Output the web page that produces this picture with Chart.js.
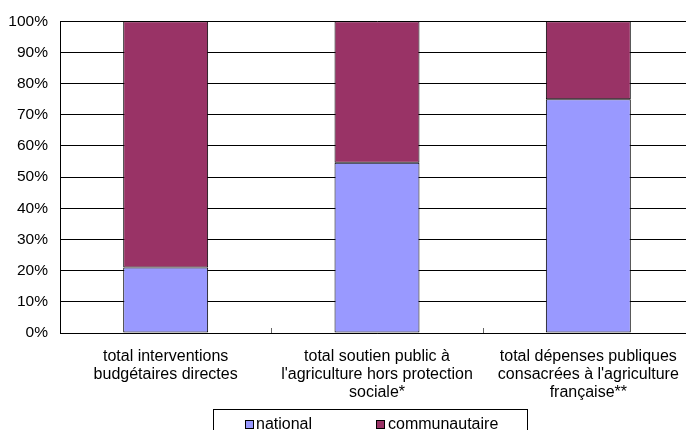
<!DOCTYPE html>
<html>
<head>
<meta charset="utf-8">
<script src="https://cdn.jsdelivr.net/npm/chart.js@4/dist/chart.umd.min.js"></script>
<style>
  html, body { margin: 0; padding: 0; background: #fff; overflow: hidden; }
  #wrap { position: relative; width: 700px; height: 430px; }
</style>
</head>
<body>
<div id="wrap"><canvas id="c"></canvas></div>
<script>
const categories = [
  ["total interventions", "budgétaires directes"],
  ["total soutien public à", "l'agriculture hors protection", "sociale*"],
  ["total dépenses publiques", "consacrées à l'agriculture", "française**"]
];
const national = [21, 54.6, 75];
const communautaire = [79, 45.4, 25];
const seriesNames = ["national", "communautaire"];
const yTicks = [0, 10, 20, 30, 40, 50, 60, 70, 80, 90, 100];

const FONT = "'Liberation Sans', Arial, sans-serif";

const decor = {
  id: 'decor',
  afterDatasetsDraw(chart) {
    const ctx = chart.ctx;
    const xs = chart.scales.x;
    const bottom = chart.chartArea.bottom;
    ctx.save();
    ctx.strokeStyle = '#666';
    ctx.lineWidth = 1;
    for (let i = 0; i < categories.length - 1; i++) {
      const x = Math.round((xs.getPixelForValue(i) + xs.getPixelForValue(i + 1)) / 2) + 0.5;
      ctx.beginPath();
      ctx.moveTo(x, bottom - 5);
      ctx.lineTo(x, bottom);
      ctx.stroke();
    }
    ctx.restore();
  },
  afterDraw(chart) {
    const ctx = chart.ctx;
    ctx.save();
    ctx.strokeStyle = '#000';
    ctx.lineWidth = 1;
    ctx.strokeRect(213.5, 409.5, 314, 40);
    const items = [{ sx: 245, tx: 256 }, { sx: 376, tx: 388 }];
    ctx.font = '16px ' + FONT;
    ctx.textBaseline = 'alphabetic';
    ctx.textAlign = 'left';
    chart.data.datasets.forEach((ds, i) => {
      const it = items[i];
      ctx.fillStyle = ds.backgroundColor;
      ctx.fillRect(it.sx, 420, 9, 9);
      ctx.strokeStyle = '#000';
      ctx.strokeRect(it.sx + 0.5, 420.5, 8, 8);
      ctx.fillStyle = '#000';
      ctx.fillText(ds.label, it.tx, 428.5);
    });
    ctx.restore();
  }
};

new Chart(document.getElementById('c'), {
  type: 'bar',
  data: {
    labels: categories,
    datasets: [
      { label: seriesNames[0], data: national, backgroundColor: '#9999FF', borderColor: '#000', borderWidth: 1, borderSkipped: false },
      { label: seriesNames[1], data: communautaire, backgroundColor: '#993366', borderColor: '#000', borderWidth: 1, borderSkipped: false }
    ]
  },
  options: {
    responsive: true,
    maintainAspectRatio: false,
    animation: false,
    devicePixelRatio: 1,
    layout: { padding: { top: 20, right: 6, left: 0, bottom: 0 } },
    plugins: { legend: { display: false }, tooltip: { enabled: false } },
    datasets: { bar: { categoryPercentage: 1, barPercentage: 0.402 } },
    scales: {
      x: {
        stacked: true,
        grid: { display: true, drawOnChartArea: false, drawTicks: false },
        border: { display: true, color: '#000', width: 1 },
        ticks: {
          color: '#000', padding: 14, maxRotation: 0, autoSkip: false,
          font: { family: FONT, size: 16, lineHeight: 1.145 }
        },
        afterFit(s) { s.height = 97; }
      },
      y: {
        stacked: true,
        min: 0, max: 100,
        afterBuildTicks(s) { s.ticks = yTicks.map(v => ({ value: v })); },
        grid: { color: '#000', lineWidth: 1, drawTicks: false },
        border: { display: true, color: '#000', width: 1 },
        ticks: {
          color: '#000', padding: 12,
          font: { family: FONT, size: 15.5 },
          callback: v => v + '%'
        },
        afterFit(s) { s.width = 60; }
      }
    }
  },
  plugins: [decor]
});
</script>
</body>
</html>
